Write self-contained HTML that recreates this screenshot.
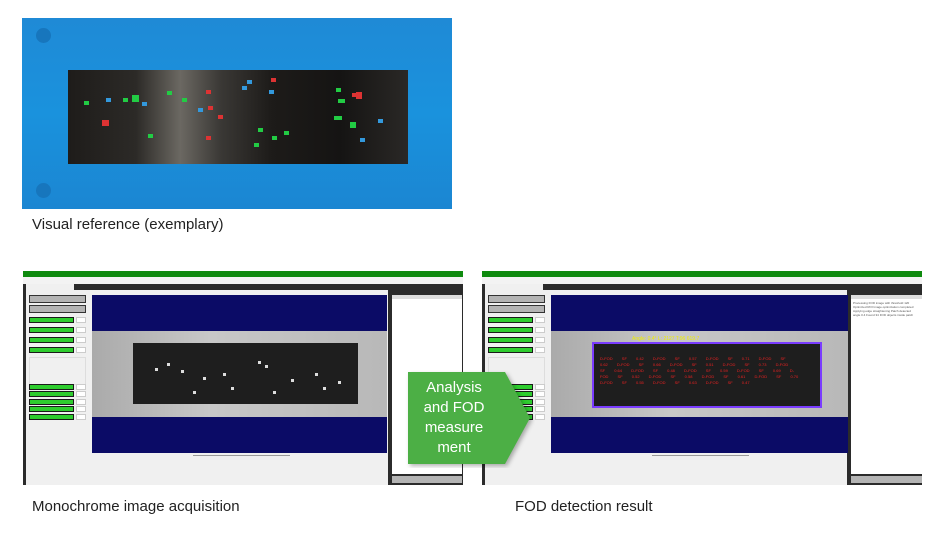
<!DOCTYPE html>
<html><head><meta charset="utf-8"><style>
*{margin:0;padding:0;box-sizing:border-box}
body{width:945px;height:538px;background:#fff;position:relative;overflow:hidden;font-family:"Liberation Sans",sans-serif}
.a{position:absolute}
.cap{position:absolute;font-size:15px;color:#222}
.ss{position:absolute;width:440px;height:214px;background:#2b2b2b;overflow:hidden}
.ss .a{position:absolute}
.g{background:#2ecc2e;border:1px solid #1a1a1a;height:6px;left:6px;width:45px}
.v{background:#fff;border:1px solid #ccc;height:6px;left:53px;width:10px}
.btn{background:#b4b4b4;border:1px solid #333;left:6px;width:57px;height:8px}
.c{position:absolute;width:5px;height:4px}
.w{position:absolute;width:3px;height:3px;background:#ddd}
</style></head><body>

<div class="a" style="left:22px;top:18px;width:430px;height:191px;background:linear-gradient(180deg,#1f8ad6,#1a92dd 50%,#1b86d2);">
  <div class="a" style="left:14px;top:10px;width:15px;height:15px;border-radius:50%;background:#1776bd"></div>
  <div class="a" style="left:14px;top:165px;width:15px;height:15px;border-radius:50%;background:#1776bd"></div>
  <div class="a" style="left:46px;top:52px;width:340px;height:94px;background:linear-gradient(90deg,#1e1c1a 0%,#2c2a27 20%,#6b6862 33%,#3a3835 45%,#1d1b19 60%,#151413 80%,#2a2826 100%)"></div>
  <div class="c" style="left:80px;top:102px;background:#d33;width:7px;height:6px"></div>
  <div class="c" style="left:101px;top:80px;background:#2c4"></div>
  <div class="c" style="left:110px;top:77px;background:#2c4;width:7px;height:7px"></div>
  <div class="c" style="left:62px;top:83px;background:#2c4"></div>
  <div class="c" style="left:84px;top:80px;background:#39d"></div>
  <div class="c" style="left:120px;top:84px;background:#39d"></div>
  <div class="c" style="left:145px;top:73px;background:#2c4"></div>
  <div class="c" style="left:160px;top:80px;background:#2c4"></div>
  <div class="c" style="left:176px;top:90px;background:#39d"></div>
  <div class="c" style="left:184px;top:72px;background:#d33"></div>
  <div class="c" style="left:186px;top:88px;background:#d33"></div>
  <div class="c" style="left:196px;top:97px;background:#d33"></div>
  <div class="c" style="left:184px;top:118px;background:#d33"></div>
  <div class="c" style="left:126px;top:116px;background:#2c4"></div>
  <div class="c" style="left:225px;top:62px;background:#39d"></div>
  <div class="c" style="left:220px;top:68px;background:#39d"></div>
  <div class="c" style="left:249px;top:60px;background:#d33"></div>
  <div class="c" style="left:247px;top:72px;background:#39d"></div>
  <div class="c" style="left:236px;top:110px;background:#2c4"></div>
  <div class="c" style="left:250px;top:118px;background:#2c4"></div>
  <div class="c" style="left:262px;top:113px;background:#2c4"></div>
  <div class="c" style="left:232px;top:125px;background:#2c4"></div>
  <div class="c" style="left:314px;top:70px;background:#2c4"></div>
  <div class="c" style="left:316px;top:81px;background:#2c4;width:7px"></div>
  <div class="c" style="left:330px;top:75px;background:#d33"></div>
  <div class="c" style="left:334px;top:74px;background:#d33;width:6px;height:7px"></div>
  <div class="c" style="left:312px;top:98px;background:#2c4;width:8px"></div>
  <div class="c" style="left:328px;top:104px;background:#2c4;width:6px;height:6px"></div>
  <div class="c" style="left:356px;top:101px;background:#39d"></div>
  <div class="c" style="left:338px;top:120px;background:#39d"></div>
</div>
<div class="cap" style="left:32px;top:216px">Visual reference (exemplary)</div>

<div class="ss" style="left:23px;top:271px">
  <div class="a" style="left:0;top:0;width:440px;height:6px;background:#0e8a0e"></div>
  <div class="a" style="left:0;top:6px;width:440px;height:7px;background:#f3f3f3"></div>
  <div class="a" style="left:3px;top:13px;width:48px;height:6px;background:#f0f0f0"></div>
  <div class="a" style="left:3px;top:19px;width:362px;height:195px;background:#f0f0f0"></div>
  <div class="a btn" style="top:24px"></div>
  <div class="a btn" style="top:34px"></div>
  <div class="a g" style="top:46px"></div><div class="a v" style="top:46px"></div>
  <div class="a g" style="top:56px"></div><div class="a v" style="top:56px"></div>
  <div class="a g" style="top:66px"></div><div class="a v" style="top:66px"></div>
  <div class="a g" style="top:76px"></div><div class="a v" style="top:76px"></div>
  <div class="a" style="left:6px;top:86px;width:57px;height:28px;border:1px solid #ddd"></div>
  <div class="a g" style="top:113px"></div><div class="a v" style="top:113px"></div>
  <div class="a g" style="top:120px"></div><div class="a v" style="top:120px"></div>
  <div class="a g" style="top:128px"></div><div class="a v" style="top:128px"></div>
  <div class="a g" style="top:135px"></div><div class="a v" style="top:135px"></div>
  <div class="a g" style="top:143px"></div><div class="a v" style="top:143px"></div>
  <div class="a" style="left:69px;top:24px;width:295px;height:158px;background:#0b0b66"></div>
  <div class="a" style="left:69px;top:60px;width:295px;height:86px;background:linear-gradient(90deg,#aaa,#c8c8c8 40%,#b8b8b8)"></div>
  <div class="a" style="left:110px;top:72px;width:225px;height:61px;background:#1e1e1e">
    <div class="w" style="left:22px;top:25px"></div><div class="w" style="left:34px;top:20px"></div>
    <div class="w" style="left:48px;top:27px"></div><div class="w" style="left:70px;top:34px"></div>
    <div class="w" style="left:90px;top:30px"></div><div class="w" style="left:98px;top:44px"></div>
    <div class="w" style="left:125px;top:18px"></div><div class="w" style="left:132px;top:22px"></div>
    <div class="w" style="left:140px;top:48px"></div><div class="w" style="left:158px;top:36px"></div>
    <div class="w" style="left:182px;top:30px"></div><div class="w" style="left:190px;top:44px"></div>
    <div class="w" style="left:205px;top:38px"></div><div class="w" style="left:60px;top:48px"></div>
  </div>
  <div class="a" style="left:170px;top:184px;width:97px;height:1px;background:#999"></div>
  <div class="a" style="left:369px;top:24px;width:70px;height:179px;background:#fff"></div>
  <div class="a" style="left:369px;top:24px;width:70px;height:4px;background:#ddd"></div>
  <div class="a" style="left:369px;top:205px;width:70px;height:7px;background:#b4b4b4"></div>
</div>
<div class="cap" style="left:32px;top:498px">Monochrome image acquisition</div>

<div class="ss" style="left:482px;top:271px">
  <div class="a" style="left:0;top:0;width:440px;height:6px;background:#0e8a0e"></div>
  <div class="a" style="left:0;top:6px;width:440px;height:7px;background:#f3f3f3"></div>
  <div class="a" style="left:3px;top:13px;width:58px;height:6px;background:#f0f0f0"></div>
  <div class="a" style="left:3px;top:19px;width:362px;height:195px;background:#f0f0f0"></div>
  <div class="a btn" style="top:24px"></div>
  <div class="a btn" style="top:34px"></div>
  <div class="a g" style="top:46px"></div><div class="a v" style="top:46px"></div>
  <div class="a g" style="top:56px"></div><div class="a v" style="top:56px"></div>
  <div class="a g" style="top:66px"></div><div class="a v" style="top:66px"></div>
  <div class="a g" style="top:76px"></div><div class="a v" style="top:76px"></div>
  <div class="a" style="left:6px;top:86px;width:57px;height:28px;border:1px solid #ddd"></div>
  <div class="a g" style="top:113px"></div><div class="a v" style="top:113px"></div>
  <div class="a g" style="top:120px"></div><div class="a v" style="top:120px"></div>
  <div class="a g" style="top:128px"></div><div class="a v" style="top:128px"></div>
  <div class="a g" style="top:135px"></div><div class="a v" style="top:135px"></div>
  <div class="a g" style="top:143px"></div><div class="a v" style="top:143px"></div>
  <div class="a" style="left:69px;top:24px;width:297px;height:158px;background:#0b0b66"></div>
  <div class="a" style="left:69px;top:60px;width:297px;height:86px;background:linear-gradient(90deg,#aaa,#c8c8c8 40%,#b8b8b8)"></div>
  <div class="a" style="left:110px;top:71px;width:230px;height:66px;background:#1e1e1e;border:2px solid #7a3cff"></div>
  <div class="a" style="left:150px;top:65px;font-size:5px;color:#ee0">Angle: 0.4° L: 2127 T:96 619.7</div>
  <div class="a" style="left:118px;top:85px;width:200px;height:45px;font-size:4px;line-height:6px;color:#e22;word-spacing:8px">D-FOD SF 0.42 D-FOD SF 0.57 D-FOD SF 0.71 D-FOD SF 0.62 D-FOD SF 0.66 D-FOD SF 0.51 D-FOD SF 0.73 D-FOD SF 0.64 D-FOD SF 0.48 D-FOD SF 0.59 D-FOD SF 0.69 D-FOD SF 0.52 D-FOD SF 0.58 D-FOD SF 0.61 D-FOD SF 0.70 D-FOD SF 0.55 D-FOD SF 0.63 D-FOD SF 0.47</div>
  <div class="a" style="left:170px;top:184px;width:97px;height:1px;background:#999"></div>
  <div class="a" style="left:369px;top:24px;width:71px;height:179px;background:#fff"></div>
  <div class="a" style="left:369px;top:24px;width:71px;height:4px;background:#ddd"></div>
  <div class="a" style="left:371px;top:30px;width:66px;height:34px;font-size:3px;line-height:4px;color:#555">Processing FOD image with threshold 120 Optimized ROI Image optimization completed Applying edge straightening Patch detected angle 0.4 Found 34 FOD objects inside patch</div>
  <div class="a" style="left:369px;top:205px;width:71px;height:7px;background:#b4b4b4"></div>
</div>
<div class="cap" style="left:515px;top:498px">FOD detection result</div>

<svg class="a" style="left:405px;top:370px" width="130" height="98">
  <polygon points="3,2 100,2 125,48 100,94 3,94" fill="#4caf45" style="filter:drop-shadow(2px 2px 2px rgba(0,0,0,.3))"/>
</svg>
<div class="a" style="left:408px;top:378px;width:92px;text-align:center;color:#fff;font-size:15px;line-height:20px">Analysis<br>and FOD<br>measure<br>ment</div>
</body></html>
